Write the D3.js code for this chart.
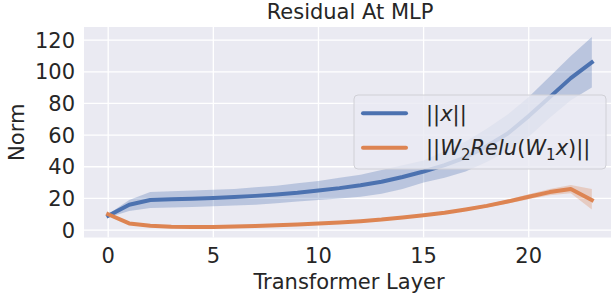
<!DOCTYPE html>
<html>
<head>
<meta charset="UTF-8">
<title>Residual At MLP</title>
<script src="https://d3js.org/d3.v7.min.js"></script>
<style>
  body { margin: 0; background: #fff; }
  text { font-family: "DejaVu Sans", sans-serif; fill: #262626; }
</style>
</head>
<body>
<div id="chart"></div>
<script>
// layer index 0..23
var layers = d3.range(24);

// ||x|| mean and band
var xMean  = [9, 16, 19, 19.4, 19.8, 20.3, 20.9, 21.6, 22.5, 23.6, 25, 26.5, 28.3, 30.5, 33.5, 37, 41, 46, 53, 61, 72, 84, 96, 106];
var xUpper = [10, 19, 24, 24.5, 25, 25.5, 26, 27, 28, 29.5, 31, 33, 35, 38, 41, 44, 50, 56, 64, 73, 84, 97, 110, 122];
var xLower = [8, 12, 14, 14.3, 14.5, 15, 15.5, 16, 17, 18, 19, 20, 21, 23, 26, 30, 33, 37, 43, 50, 59, 71, 82, 90];

// ||W2 Relu(W1 x)|| mean and band
var mMean  = [10, 4.2, 2.7, 2.1, 1.9, 2, 2.2, 2.6, 3, 3.5, 4.1, 4.8, 5.6, 6.6, 7.9, 9.4, 11, 13, 15.3, 18, 21, 24, 26, 19];
var mUpper = [10.5, 4.6, 3, 2.4, 2.2, 2.3, 2.5, 2.9, 3.3, 3.8, 4.5, 5.2, 6, 7.1, 8.4, 10, 11.7, 13.8, 16.3, 19.2, 22.6, 26, 28.5, 26];
var mLower = [9.5, 3.8, 2.4, 1.8, 1.6, 1.7, 1.9, 2.3, 2.7, 3.2, 3.7, 4.4, 5.2, 6.1, 7.4, 8.8, 10.3, 12.2, 14.3, 16.8, 19.4, 22, 23.2, 13];

var xTicks = [0, 5, 10, 15, 20];
var yTicks = [0, 20, 40, 60, 80, 100, 120];

var W = 611, H = 301;
var pL = 84, pR = 616, pT = 27, pB = 237.5;

var svg = d3.select("#chart").append("svg")
    .attr("width", W).attr("height", H);

var x = d3.scaleLinear().domain([-1.15, 24.15]).range([pL, pR]);
var y = d3.scaleLinear().domain([-4.7, 128.3]).range([pB, pT]);

svg.append("rect")
    .attr("x", pL).attr("y", pT)
    .attr("width", pR - pL).attr("height", pB - pT)
    .attr("fill", "#EAEAF2");

// grid
svg.selectAll(".gx").data(xTicks).enter().append("line")
    .attr("x1", function (d) { return x(d); }).attr("x2", function (d) { return x(d); })
    .attr("y1", pT).attr("y2", pB)
    .attr("stroke", "#fff").attr("stroke-width", 1.3);
svg.selectAll(".gy").data(yTicks).enter().append("line")
    .attr("y1", function (d) { return y(d); }).attr("y2", function (d) { return y(d); })
    .attr("x1", pL).attr("x2", pR)
    .attr("stroke", "#fff").attr("stroke-width", 1.3);

var series = [
    {mean: xMean, up: xUpper, lo: xLower, color: "#4C72B0"},
    {mean: mMean, up: mUpper, lo: mLower, color: "#DD8452"}
];

var area = function (s) {
    return d3.area()
        .x(function (d) { return x(d); })
        .y0(function (d) { return y(s.lo[d]); })
        .y1(function (d) { return y(s.up[d]); });
};
var line = function (s) {
    return d3.line()
        .x(function (d) { return x(d); })
        .y(function (d) { return y(s.mean[d]); });
};

series.forEach(function (s) {
    svg.append("path").datum(layers)
        .attr("d", area(s))
        .attr("fill", s.color).attr("fill-opacity", 0.3);
});
series.forEach(function (s) {
    svg.append("path").datum(layers)
        .attr("d", line(s))
        .attr("fill", "none").attr("stroke", s.color)
        .attr("stroke-width", 4).attr("stroke-linecap", "square")
        .attr("stroke-linejoin", "round");
});

// tick labels
svg.selectAll(".tx").data(xTicks).enter().append("text")
    .attr("x", function (d) { return x(d); }).attr("y", 263)
    .attr("text-anchor", "middle").style("font-size", "21px")
    .text(function (d) { return d; });
svg.selectAll(".ty").data(yTicks).enter().append("text")
    .attr("x", 75).attr("y", function (d) { return y(d); })
    .attr("dy", "0.36em")
    .attr("text-anchor", "end").style("font-size", "21px")
    .text(function (d) { return d; });

// titles
svg.append("text").attr("x", 350).attr("y", 19)
    .attr("text-anchor", "middle").style("font-size", "21px")
    .text("Residual At MLP");
svg.append("text").attr("x", 349).attr("y", 289)
    .attr("text-anchor", "middle").style("font-size", "21px")
    .text("Transformer Layer");
svg.append("text")
    .attr("transform", "translate(24," + ((pT + pB) / 2) + ") rotate(-90)")
    .attr("text-anchor", "middle").style("font-size", "21px")
    .text("Norm");

// legend
var lg = svg.append("g");
lg.append("rect")
    .attr("x", 354).attr("y", 95).attr("width", 252).attr("height", 74)
    .attr("rx", 4)
    .attr("fill", "#EAEAF2").attr("fill-opacity", 0.8)
    .attr("stroke", "#d0d0d6").attr("stroke-width", 1);

var rows = [113.3, 147.7];
series.forEach(function (s, i) {
    lg.append("line")
        .attr("x1", 363).attr("x2", 406)
        .attr("y1", rows[i]).attr("y2", rows[i])
        .attr("stroke", s.color).attr("stroke-width", 4)
        .attr("stroke-linecap", "round");
});

var t1 = lg.append("text").attr("x", 426).attr("y", rows[0]).attr("dy", "0.36em")
    .style("font-size", "21px");
t1.append("tspan").text("||");
t1.append("tspan").style("font-style", "italic").text("x");
t1.append("tspan").text("||");

var t2 = lg.append("text").attr("x", 426).attr("y", rows[1]).attr("dy", "0.36em")
    .style("font-size", "21px");
t2.append("tspan").text("||");
t2.append("tspan").style("font-style", "italic").text("W");
t2.append("tspan").attr("dy", 5).style("font-size", "15px").text("2");
t2.append("tspan").attr("dy", -5).style("font-style", "italic").text("Relu");
t2.append("tspan").text("(");
t2.append("tspan").style("font-style", "italic").text("W");
t2.append("tspan").attr("dy", 5).style("font-size", "15px").text("1");
t2.append("tspan").attr("dy", -5).style("font-style", "italic").text("x");
t2.append("tspan").text(")||");
</script>
</body>
</html>
